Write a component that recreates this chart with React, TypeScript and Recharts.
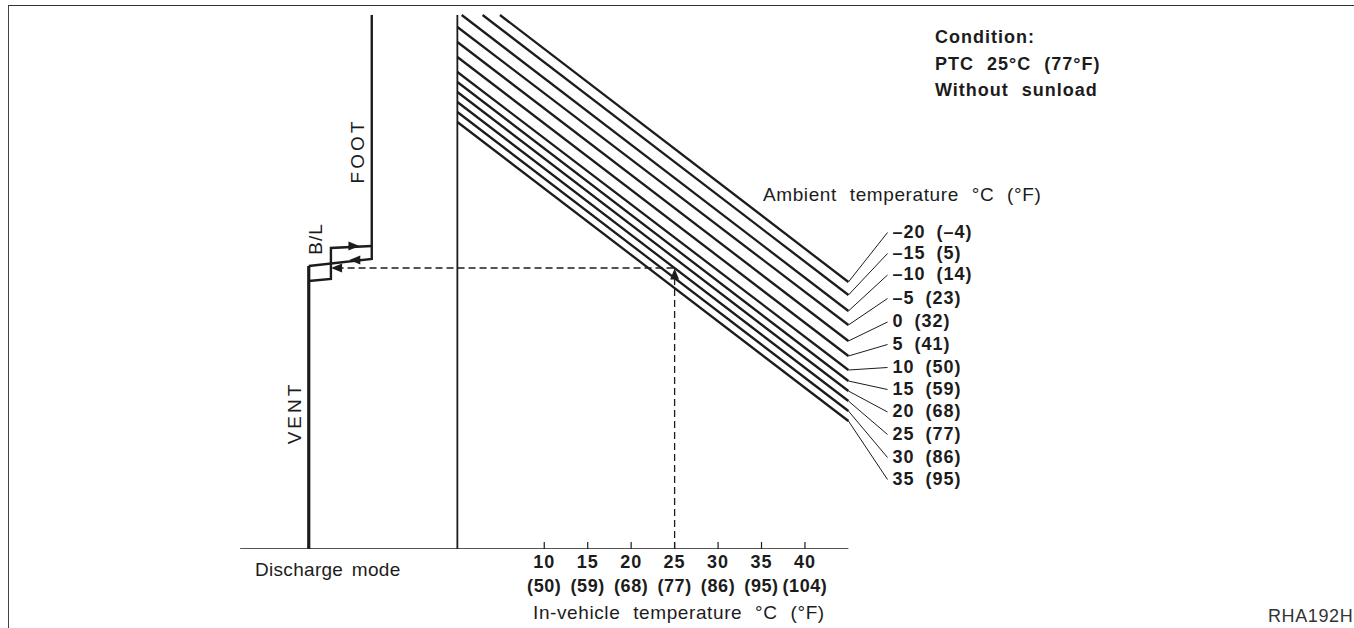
import { ComposedChart, Line, Scatter, XAxis, YAxis } from "recharts";

// x: in-vehicle temperature °C (the discharge-mode sketch sits left of 0)
// y: schematic level above the baseline (no scale printed on the original)
const X_MIN = -52.63;
const X_MAX = 103.18;
const Y_MAX = 549;

const inVehicleTicks = [10, 15, 20, 25, 30, 35, 40];
const inVehicleF = ["(50)", "(59)", "(68)", "(77)", "(86)", "(95)", "(104)"];

// ambient temperature curves, °C (°F)
const ambientLabels = [
  "–20 (–4)",
  "–15 (5)",
  "–10 (14)",
  "–5 (23)",
  "0 (32)",
  "5 (41)",
  "10 (50)",
  "15 (59)",
  "20 (68)",
  "25 (77)",
  "30 (86)",
  "35 (95)",
];
const curveStartT = [4.9, 2.9, 0.5, 0, 0, 0, 0, 0, 0, 0, 0, 0];
const curveStartLevel = [534, 534, 534, 522, 507, 492, 477, 467, 457, 447, 437, 427];
const curveEndT = 45;
const curveEndLevel = [267, 254, 238, 224, 208, 193, 179, 168, 158, 148, 138, 128];
const leaderEndT = 49.5;
const leaderEndLevel = [316.5, 295.5, 274, 250.5, 227, 204.5, 181.5, 159.5, 137, 114.5, 91.5, 69.5];

// frame of the chart
const baseline = [
  { x: -25, y: 0 },
  { x: 45, y: 0 },
];
const zeroLine = [
  { x: 0, y: 0 },
  { x: 0, y: 534 },
];

// discharge mode hysteresis: VENT -> B/L -> FOOT
const ventPath = [
  { x: -17.1, y: 0 },
  { x: -17.1, y: 283 },
];
const footPath = [
  { x: -17.1, y: 283 },
  { x: -9.85, y: 290 },
  { x: -9.85, y: 534 },
];
const blPath = [
  { x: -17.1, y: 268 },
  { x: -14.55, y: 270 },
  { x: -14.55, y: 301 },
  { x: -9.85, y: 303 },
];

// example reading at 25 °C in-vehicle
const readoutH = [
  { x: -13.9, y: 281 },
  { x: 25, y: 281 },
];
const readoutV = [
  { x: 25, y: 0 },
  { x: 25, y: 275 },
];

const arrows = [
  { x: -11.8, y: 289, dir: "left" },
  { x: -11.9, y: 303, dir: "right" },
  { x: -13.9, y: 281, dir: "left" },
  { x: 25, y: 275, dir: "up" },
];

const FONT = '"Liberation Sans", Arial, Helvetica, sans-serif';
const INK = "#1c1c1c";

// biome-ignore lint/suspicious/noExplicitAny: recharts dot props are runtime-shaped.
const NoDot = (p: any) => <g key={`nodot-${p.index}`} />;

// biome-ignore lint/suspicious/noExplicitAny: recharts tick props are runtime-shaped.
function InVehicleTick({ x, y, payload }: any) {
  const i = inVehicleTicks.indexOf(payload.value);
  return (
    <g>
      <line x1={x} x2={x} y1={y - 7} y2={y} stroke={INK} strokeWidth={1.2} />
      <text
        x={x}
        y={y + 19}
        textAnchor="middle"
        fontFamily={FONT}
        fontSize={18}
        fontWeight="bold"
        letterSpacing={1}
        fill={INK}
      >
        {payload.value}
      </text>
      <text
        x={x}
        y={y + 43}
        textAnchor="middle"
        fontFamily={FONT}
        fontSize={18}
        fontWeight="bold"
        letterSpacing={0.6}
        fill={INK}
      >
        {inVehicleF[i]}
      </text>
    </g>
  );
}

// biome-ignore lint/suspicious/noExplicitAny: recharts scatter shape props are runtime-shaped.
function ArrowHead(props: any) {
  const { cx, cy } = props;
  const dir = props.payload?.dir ?? props.dir;
  const l = 5.5;
  const w = 4.5;
  let pts = "";
  if (dir === "left") pts = `${cx - l},${cy} ${cx + l},${cy - w} ${cx + l},${cy + w}`;
  else if (dir === "right") pts = `${cx + l},${cy} ${cx - l},${cy - w} ${cx - l},${cy + w}`;
  else pts = `${cx},${cy - l} ${cx - w},${cy + l} ${cx + w},${cy + l}`;
  return <polygon points={pts} fill={INK} />;
}

function ambientLabel(text: string) {
  // biome-ignore lint/suspicious/noExplicitAny: recharts label props are runtime-shaped.
  return (p: any) => {
    if (p.index !== 1) return null;
    return (
      <text
        x={p.x + 5}
        y={p.y + 5}
        fontFamily={FONT}
        fontSize={18}
        fontWeight="bold"
        letterSpacing={1}
        wordSpacing={5}
        fill={INK}
      >
        {text}
      </text>
    );
  };
}

type TxtProps = {
  x: number;
  y: number;
  children: string;
  bold?: boolean;
  rotate?: boolean;
  size?: number;
  color?: string;
  ls?: number;
  ws?: number;
};

function Txt({ x, y, children, bold, rotate, size = 19, color = INK, ls, ws = 7 }: TxtProps) {
  return (
    <div
      style={{
        position: "absolute",
        left: x,
        top: y,
        transform: rotate ? "translate(-50%, -50%) rotate(-90deg)" : "translateY(-50%)",
        fontFamily: FONT,
        fontSize: size,
        fontWeight: bold ? "bold" : "normal",
        letterSpacing: ls ?? (bold ? 1 : 0.6),
        wordSpacing: ws,
        lineHeight: "22px",
        whiteSpace: "nowrap",
        color,
      }}
    >
      {children}
    </div>
  );
}

export default function App() {
  return (
    <div
      style={{
        position: "absolute",
        left: 0,
        top: 0,
        width: 1354,
        height: 628,
        background: "#fff",
        overflow: "hidden",
      }}
    >
      <div
        style={{
          position: "absolute",
          left: 7.5,
          top: 4.5,
          width: 1354,
          height: 640,
          borderTop: "1.5px solid #333",
          borderLeft: "1.5px solid #444",
        }}
      />
      <ComposedChart
        width={1354}
        height={628}
        margin={{ top: 0, right: 0, bottom: 0, left: 0 }}
        style={{ position: "absolute", left: 0, top: 0 }}
      >
        <XAxis
          type="number"
          dataKey="x"
          domain={[X_MIN, X_MAX]}
          allowDataOverflow
          ticks={inVehicleTicks}
          interval={0}
          tick={(p) => <InVehicleTick {...p} />}
          axisLine={false}
          tickLine={false}
          tickSize={0}
          tickMargin={0}
          height={79}
        />
        <YAxis type="number" dataKey="y" domain={[0, Y_MAX]} allowDataOverflow hide />

        <Line data={baseline} dataKey="y" stroke={INK} strokeWidth={1.6} dot={NoDot} activeDot={false} isAnimationActive={false} />
        <Line data={zeroLine} dataKey="y" stroke={INK} strokeWidth={1.8} dot={NoDot} activeDot={false} isAnimationActive={false} />

        <Line
          data={readoutH}
          dataKey="y"
          stroke={INK}
          strokeWidth={1.3}
          strokeDasharray="7 4"
          dot={NoDot}
          activeDot={false}
          isAnimationActive={false}
        />
        <Line
          data={readoutV}
          dataKey="y"
          stroke={INK}
          strokeWidth={1.3}
          strokeDasharray="7 4"
          dot={NoDot}
          activeDot={false}
          isAnimationActive={false}
        />

        <Line data={ventPath} dataKey="y" stroke={INK} strokeWidth={3.2} dot={NoDot} activeDot={false} isAnimationActive={false} />
        <Line
          data={footPath}
          dataKey="y"
          type="linear"
          stroke={INK}
          strokeWidth={2.4}
          dot={NoDot}
          activeDot={false}
          isAnimationActive={false}
        />
        <Line
          data={blPath}
          dataKey="y"
          type="linear"
          stroke={INK}
          strokeWidth={2.4}
          dot={NoDot}
          activeDot={false}
          isAnimationActive={false}
        />

        {ambientLabels.map((label, i) => (
          <Line
            key={`curve-${label}`}
            data={[
              { x: curveStartT[i], y: curveStartLevel[i] },
              { x: curveEndT, y: curveEndLevel[i] },
            ]}
            dataKey="y"
            type="linear"
            stroke={INK}
            strokeWidth={2.3}
            dot={NoDot}
            activeDot={false}
            isAnimationActive={false}
          />
        ))}
        {ambientLabels.map((label, i) => (
          <Line
            key={`leader-${label}`}
            data={[
              { x: curveEndT, y: curveEndLevel[i] },
              { x: leaderEndT, y: leaderEndLevel[i] },
            ]}
            dataKey="y"
            type="linear"
            stroke={INK}
            strokeWidth={1}
            dot={NoDot}
            activeDot={false}
            label={ambientLabel(label)}
            isAnimationActive={false}
          />
        ))}

        <Scatter data={arrows} dataKey="y" shape={ArrowHead} isAnimationActive={false} />
      </ComposedChart>

      <Txt x={935} y={37} bold size={18}>
        Condition:
      </Txt>
      <Txt x={935} y={63.5} bold size={18}>
        PTC 25°C (77°F)
      </Txt>
      <Txt x={935} y={90} bold size={18}>
        Without sunload
      </Txt>
      <Txt x={763} y={195}>Ambient temperature °C (°F)</Txt>
      <Txt x={255} y={570} ls={0.3} ws={3}>
        Discharge mode
      </Txt>
      <Txt x={533} y={613}>In-vehicle temperature °C (°F)</Txt>
      <Txt x={1268} y={616} size={18} color="#333">
        RHA192H
      </Txt>
      <Txt x={295} y={413} rotate ls={3}>
        VENT
      </Txt>
      <Txt x={316} y={239} rotate ls={1}>
        B/L
      </Txt>
      <Txt x={358} y={151} rotate ls={3}>
        FOOT
      </Txt>
    </div>
  );
}
